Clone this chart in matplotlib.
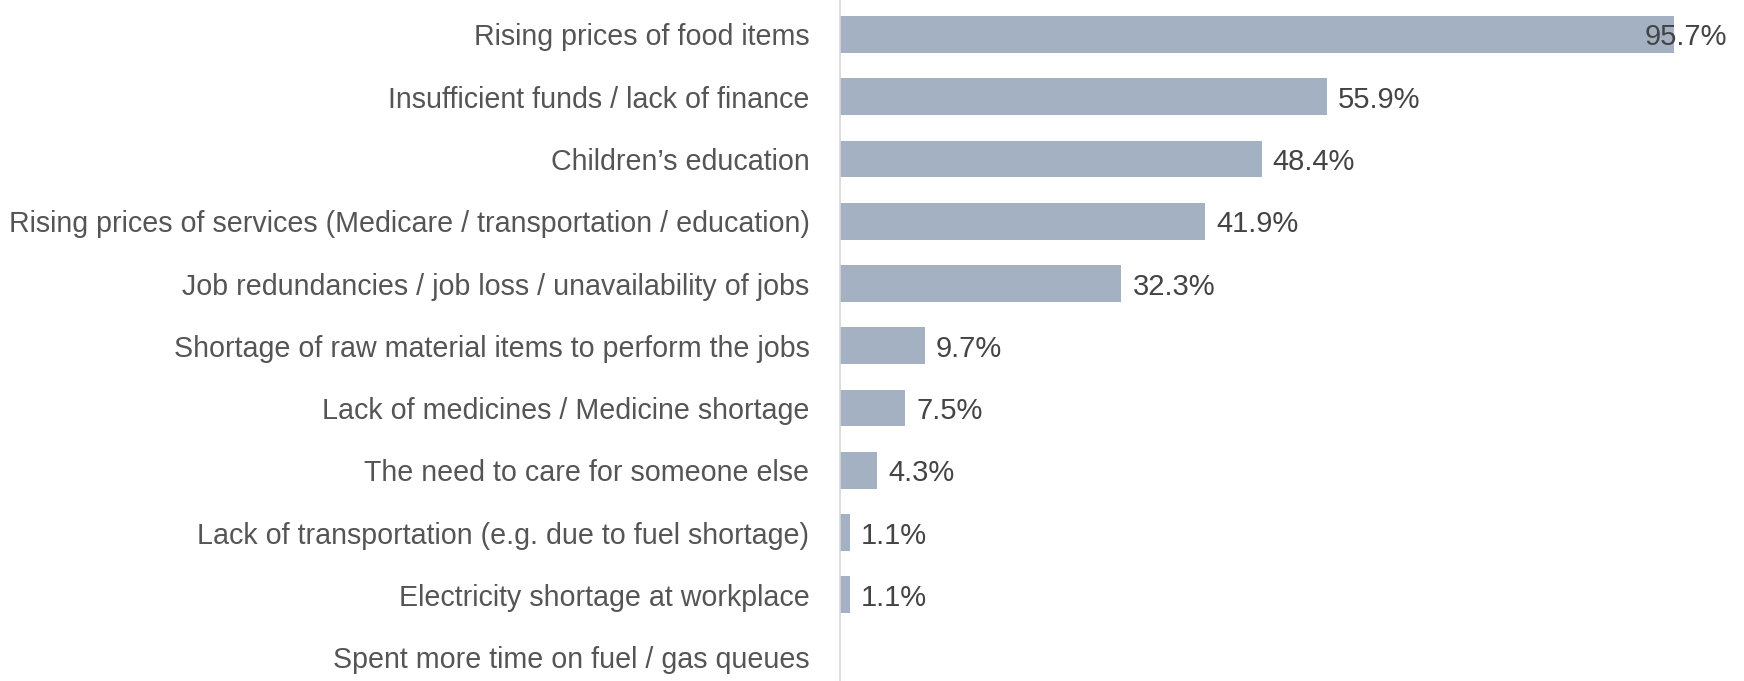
import matplotlib
matplotlib.use('Agg')
import matplotlib.pyplot as plt

plt.rcParams['font.family'] = ['Liberation Sans', 'DejaVu Sans']

categories = [
    "Rising prices of food items",
    "Insufficient funds / lack of finance",
    "Children\u2019s education",
    "Rising prices of services (Medicare / transportation / education)",
    "Job redundancies / job loss / unavailability of jobs",
    "Shortage of raw material items to perform the jobs",
    "Lack of medicines / Medicine shortage",
    "The need to care for someone else",
    "Lack of transportation (e.g. due to fuel shortage)",
    "Electricity shortage at workplace",
    "Spent more time on fuel / gas queues",
]
values = [95.7, 55.9, 48.4, 41.9, 32.3, 9.7, 7.5, 4.3, 1.1, 1.1, 0.0]

W, H = 1744, 681
fig = plt.figure(figsize=(W / 100, H / 100), dpi=100)
ax_left = 840
ax = fig.add_axes([ax_left / W, 0, (W - ax_left) / W, 1])

bar_color = '#a3b1c2'
ax.barh(range(len(categories)), values, height=0.59, color=bar_color)

ax.set_ylim(10.385, -0.554)
ax.set_xlim(0, (W - ax_left) / 8.715)

ax.set_yticks(range(len(categories)))
ax.set_yticklabels(categories, fontsize=20.6, color='#555555')
ax.tick_params(axis='y', length=0, pad=22)
ax.set_xticks([])
for s in ['top', 'right', 'bottom']:
    ax.spines[s].set_visible(False)
ax.spines['left'].set_color('#d6d6d6')
ax.spines['left'].set_linewidth(1.2)

for i, v in enumerate(values):
    if v <= 0:
        continue
    if i == 0:
        ax.annotate(f"{v:.1f}%", xy=(1, i), xycoords=('axes fraction', 'data'),
                    xytext=(-17, 0), textcoords='offset pixels',
                    ha='right', va='center_baseline', fontsize=21, color='#444444')
    else:
        ax.annotate(f"{v:.1f}%", xy=(v, i), xytext=(11, 0), textcoords='offset pixels',
                    ha='left', va='center_baseline', fontsize=21, color='#444444')

fig.savefig('out.png', dpi=100)
